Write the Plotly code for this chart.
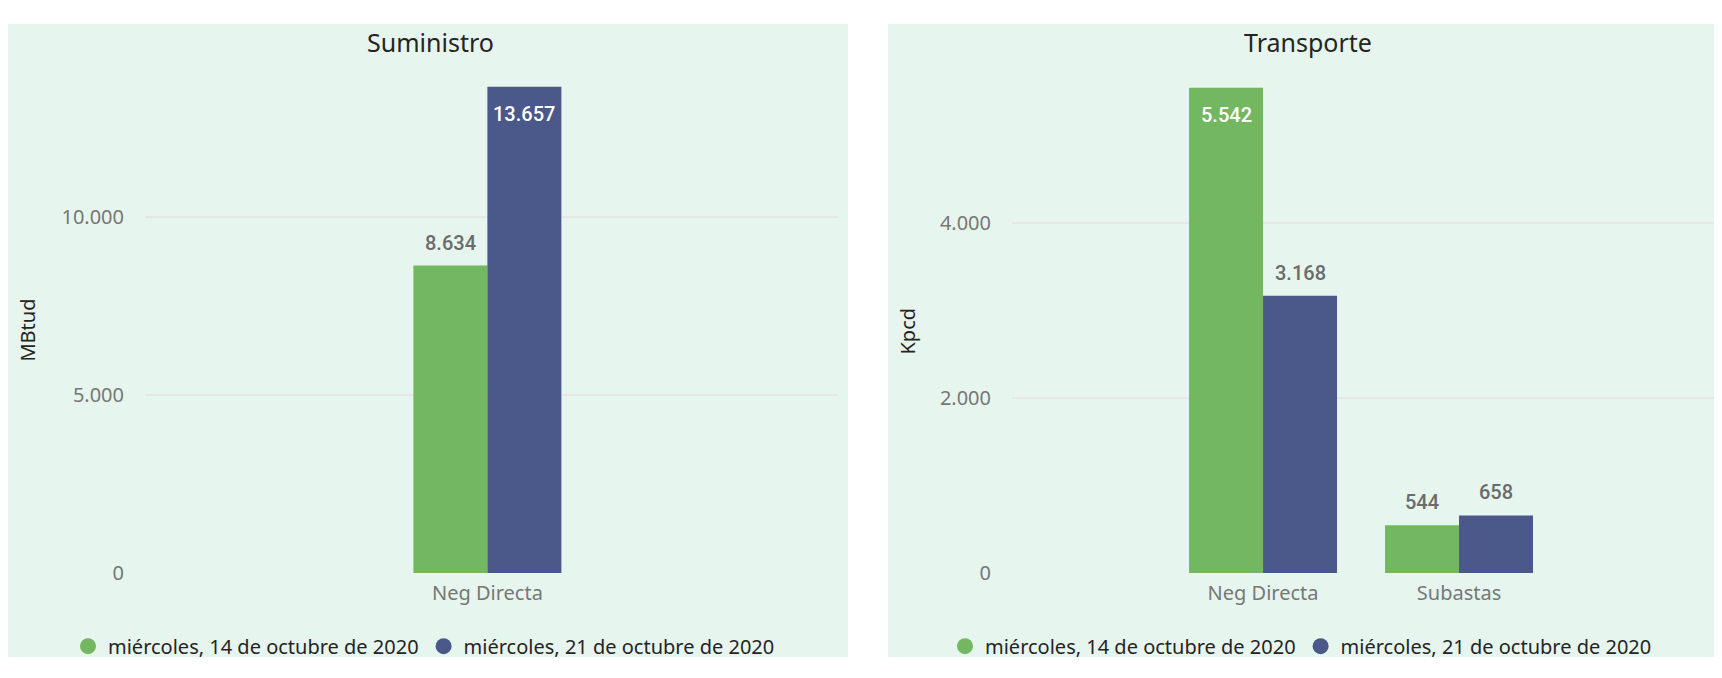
import plotly.graph_objects as go

# ---------------- data ----------------
series_names = ["miércoles, 14 de octubre de 2020", "miércoles, 21 de octubre de 2020"]
series_colors = ["#73B761", "#4A588A"]

sum_categories = ["Neg Directa"]
sum_week1 = [8634]
sum_week2 = [13657]

tra_categories = ["Neg Directa", "Subastas"]
tra_week1 = [5542, 544]
tra_week2 = [3168, 658]

sum_title = "Suministro"
tra_title = "Transporte"
sum_ylabel = "MBtud"
tra_ylabel = "Kpcd"
sum_yticks = [0, 5000, 10000]
tra_yticks = [0, 2000, 4000]

# ---------------- layout helpers ----------------
# the page body has an 8px margin, so the figure is placed at (8, 8) of the window
OFF = 8
W, H = 1722 - 2 * OFF, 678 - 2 * OFF
def px(x):
    return min(1.0, max(0.0, (x - OFF) / W))
def py(y):
    return min(1.0, max(0.0, 1 - (y - OFF) / H))

FONT = "Noto Sans"
LABEL_FONT = "Roboto"
PANEL_BG = "#E6F5EE"
GRID = "#E6E6E6"
TICK_COLOR = "#777777"
TITLE_COLOR = "#252423"
OUT_LABEL = "#6B6B6B"
BARGAP = 0.245

fig = go.Figure()
annotations = []

def add_bars(cats, vals_list, xa, ya, legend):
    chart_max = max(max(v) for v in vals_list)
    n = len(vals_list)
    half = (1 - BARGAP) / (2 * n)
    for k, (name, color, vals) in enumerate(zip(series_names, series_colors, vals_list)):
        fig.add_trace(go.Bar(
            x=cats, y=vals, name=name, marker=dict(color=color, line=dict(width=0)),
            xaxis=xa, yaxis=ya, showlegend=False, hoverinfo="skip",
        ))
        fig.add_trace(go.Scatter(
            x=[None], y=[None], mode="markers", name=name,
            marker=dict(color=color, size=16, symbol="circle"),
            xaxis=xa, yaxis=ya, legend=legend, showlegend=True,
        ))
        # data labels
        offset = -(1 - BARGAP) / 2 + half * (2 * k + 1)
        for i, v in enumerate(vals):
            inside = v == chart_max
            annotations.append(dict(
                text=f"{v:,}".replace(",", "."), xref=xa, yref=ya,
                x=i + offset, y=v, showarrow=False, xanchor="center",
                yanchor="top" if inside else "bottom",
                yshift=-13 if inside else 9,
                font=dict(family=LABEL_FONT, size=20, weight=500,
                          color="white" if inside else OUT_LABEL),
            ))

add_bars(sum_categories, [sum_week1, sum_week2], "x", "y", "legend")
add_bars(tra_categories, [tra_week1, tra_week2], "x2", "y2", "legend2")

y_top = 60
y_bot = 584.3
legend_y = 659

axis_common = dict(
    showline=False, zeroline=False, ticks="",
    tickfont=dict(family=FONT, size=20, color=TICK_COLOR),
)

annotations += [
    dict(text=sum_title, xref="paper", yref="paper", x=px(430), y=py(43),
         xanchor="center", yanchor="middle", showarrow=False,
         font=dict(family=FONT, size=25, color=TITLE_COLOR)),
    dict(text=tra_title, xref="paper", yref="paper", x=px(1308), y=py(43),
         xanchor="center", yanchor="middle", showarrow=False,
         font=dict(family=FONT, size=25, color=TITLE_COLOR)),
    # y-axis titles
    dict(text=sum_ylabel, xref="paper", yref="paper", x=px(28), y=py(337), textangle=-90,
         xanchor="center", yanchor="middle", showarrow=False,
         font=dict(family=FONT, size=20, color=TITLE_COLOR)),
    dict(text=tra_ylabel, xref="paper", yref="paper", x=px(908), y=py(337), textangle=-90,
         xanchor="center", yanchor="middle", showarrow=False,
         font=dict(family=FONT, size=20, color=TITLE_COLOR)),
]

fig.update_layout(
    width=W, height=H,
    margin=dict(l=0, r=0, t=0, b=0),
    paper_bgcolor="white",
    plot_bgcolor="rgba(0,0,0,0)",
    separators=",.",
    barmode="group", bargap=BARGAP, bargroupgap=0,
    font=dict(family=FONT, size=20, color=TITLE_COLOR),
    xaxis=dict(domain=[px(145), px(838)], range=[-1.747, 1.789], anchor="y",
               showgrid=False, ticklabelstandoff=6, **axis_common),
    yaxis=dict(domain=[py(y_bot), py(y_top)], range=[0, (y_bot - y_top) / 0.03632], anchor="x",
               tickvals=sum_yticks, tickformat=",.0f", showgrid=True, gridcolor=GRID, gridwidth=2,
               ticklabelstandoff=20, **axis_common),
    xaxis2=dict(domain=[px(1012), px(1714)], range=[-1.281, 2.301], anchor="y2",
                showgrid=False, ticklabelstandoff=6, **axis_common),
    yaxis2=dict(domain=[py(y_bot), py(y_top)], range=[0, (y_bot - y_top) / 0.0893], anchor="x2",
                tickvals=tra_yticks, tickformat=",.0f", showgrid=True, gridcolor=GRID, gridwidth=2,
                ticklabelstandoff=20, **axis_common),
    legend=dict(orientation="h", x=px(424), xanchor="center", y=py(legend_y), yanchor="middle",
                font=dict(family=FONT, size=20, color=TITLE_COLOR), bgcolor="rgba(0,0,0,0)",
                itemwidth=30, tracegroupgap=0),
    legend2=dict(orientation="h", x=px(1301), xanchor="center", y=py(legend_y), yanchor="middle",
                 font=dict(family=FONT, size=20, color=TITLE_COLOR), bgcolor="rgba(0,0,0,0)",
                 itemwidth=30, tracegroupgap=0),
    shapes=[
        dict(type="rect", xref="paper", yref="paper", x0=0, x1=px(848), y0=0, y1=py(24),
             fillcolor=PANEL_BG, line=dict(width=0), layer="below"),
        dict(type="rect", xref="paper", yref="paper", x0=px(888), x1=1, y0=0, y1=py(24),
             fillcolor=PANEL_BG, line=dict(width=0), layer="below"),
    ],
    annotations=annotations,
)

fig.write_html("out.html")
